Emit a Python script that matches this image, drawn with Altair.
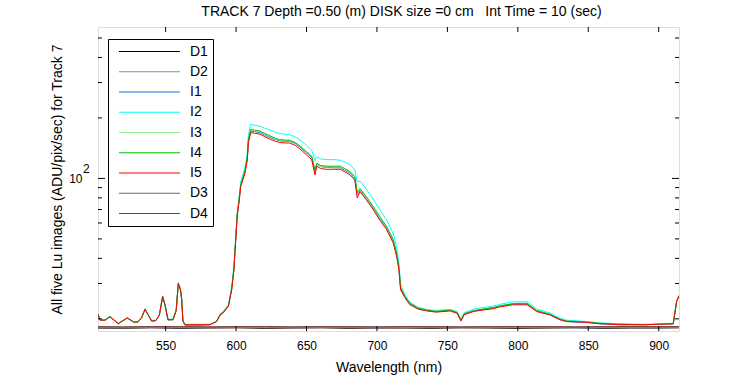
import altair as alt
import pandas as pd

# Wavelength grid (nm) for the illuminated spectra
WL = [502, 503.5, 507, 510.5, 516.4, 522.8, 527.5, 530.4, 533, 535.4,
      537.5, 540.1, 543, 545.5, 547.9, 549.5, 551.7, 555.2, 557.5, 559,
      560.5, 561.4, 562.3, 563.7, 575, 581.5, 586.2, 588.6, 590.7, 594.5,
      596.9, 598.5, 599.2, 600.8, 602.3, 603.3, 606.3, 608, 608.7, 610.4,
      613, 617, 620, 624, 628, 631, 635, 638, 642, 645.4,
      650, 653.7, 656, 657.3, 660, 664, 670, 674, 677, 681,
      684.3, 686, 688, 692.6, 697.3, 702, 707, 711.6, 714, 715.6,
      716.8, 720, 723.4, 729.3, 735.3, 742, 752, 757, 759.6, 762,
      769, 783, 787, 796.5, 806.5, 808.6, 813.3, 822.8, 830, 834.6,
      848.8, 858.3, 872.5, 890, 910.3, 912.7, 914.4]

I1 = [21.1, 19.7, 19.7, 20.5, 18.95, 20.2, 19.25, 19.3, 20.3, 22.3,
      21.0, 19.5, 19.6, 20.8, 25.8, 23.5, 19.8, 19.8, 22.0, 29.9,
      28.0, 25.0, 19.5, 18.7, 18.7, 18.7, 19.4, 20.9, 21.4, 23.1,
      28.1, 35.5, 43.0, 65.5, 79.2, 92, 107.5, 126, 153, 172,
      171, 169, 165, 160, 156, 154, 153, 153, 149, 143,
      134, 127, 108, 117.5, 114.5, 113.5, 113, 113, 110, 106,
      100, 83, 87.5, 79.5, 71.3, 63.3, 56.5, 48.6, 41.6, 35.6,
      28.3, 25.6, 23.7, 22.5, 22.0, 21.7, 22.0, 21.4, 19.6, 21.1,
      21.9, 22.7, 23.1, 23.7, 23.7, 23.2, 21.9, 21.0, 19.8, 19.4,
      19.2, 18.9, 18.7, 18.7, 18.9, 24.4, 26.0]

I2 = [21.1, 19.8, 19.8, 20.6, 19.0, 20.3, 19.3, 19.4, 20.4, 22.5,
      21.1, 19.6, 19.7, 20.9, 26.0, 23.7, 19.9, 19.9, 22.2, 30.3,
      28.3, 25.2, 19.6, 18.8, 18.8, 18.8, 19.5, 21.1, 21.7, 23.5,
      28.8, 36.5, 44.5, 67.5, 82, 96, 113, 134, 164, 186,
      184, 182, 178, 174, 170, 167, 166, 165, 161, 155,
      146, 138, 123, 128, 125, 124, 124, 123, 121, 117,
      110, 96, 97, 88, 79, 70, 62, 53, 45.5, 38,
      29.5, 26.3, 24.2, 22.8, 22.3, 22.0, 22.3, 21.7, 20.0, 21.5,
      22.4, 23.2, 23.6, 24.3, 24.3, 23.8, 22.4, 21.4, 20.1, 19.7,
      19.4, 19.1, 18.9, 18.8, 19.0, 24.6, 26.3]

I3 = [21.1, 19.7, 19.7, 20.5, 19.0, 20.2, 19.3, 19.3, 20.3, 22.4,
      21.0, 19.5, 19.6, 20.8, 25.8, 23.6, 19.8, 19.8, 22.1, 30.0,
      28.0, 25.0, 19.5, 18.7, 18.7, 18.7, 19.4, 21.0, 21.5, 23.1,
      28.2, 35.6, 43.2, 65.8, 79.5, 92.5, 108, 127, 154, 173.5,
      172.5, 170.5, 166.5, 161.5, 157, 155, 154, 154, 150, 144,
      135, 128, 109, 118, 115, 114, 114, 114, 111, 107,
      101, 84, 88, 80, 71.8, 63.8, 57, 49, 42, 35.9,
      28.5, 25.7, 23.8, 22.6, 22.1, 21.8, 22.1, 21.5, 19.7, 21.2,
      22.0, 22.8, 23.2, 23.8, 23.8, 23.3, 22.0, 21.1, 19.9, 19.5,
      19.3, 19.0, 18.8, 18.7, 18.9, 24.4, 26.0]

I4 = [21.1, 19.7, 19.7, 20.5, 18.9, 20.2, 19.2, 19.3, 20.3, 22.3,
      21.0, 19.5, 19.6, 20.8, 25.9, 23.6, 19.8, 19.8, 22.1, 30.0,
      28.1, 25.0, 19.5, 18.6, 18.6, 18.7, 19.4, 21.0, 21.5, 23.2,
      28.3, 35.8, 43.5, 66, 80, 93, 109, 128, 155, 175,
      174, 172, 168, 163, 158, 156, 155, 155, 151, 145,
      136, 129, 110, 119, 116, 115, 115, 115, 112, 108,
      102, 85, 89, 81, 72.5, 64.5, 57.5, 49.5, 42.3, 36.2,
      28.6, 25.8, 23.9, 22.6, 22.1, 21.8, 22.1, 21.5, 19.7, 21.2,
      22.0, 22.8, 23.2, 23.8, 23.9, 23.3, 22.0, 21.1, 19.9, 19.5,
      19.3, 19.0, 18.8, 18.7, 18.9, 24.4, 26.0]

I5 = [21.1, 19.7, 19.7, 20.5, 18.95, 20.2, 19.25, 19.3, 20.3, 22.35,
      21.0, 19.5, 19.6, 20.8, 25.8, 23.5, 19.8, 19.8, 22.0, 29.9,
      28.0, 25.0, 19.5, 18.7, 18.7, 18.7, 19.4, 20.9, 21.4, 23.0,
      27.9, 35.1, 42.6, 64.6, 78.2, 91.0, 106, 124, 150, 169,
      168, 166, 162, 157, 153, 151, 150, 150, 146, 140,
      131, 124, 104, 115, 112, 111, 111, 111, 108, 104,
      98, 80, 86, 78, 70, 62, 55.4, 47.6, 40.8, 35.1,
      27.9, 25.4, 23.5, 22.35, 21.9, 21.6, 21.9, 21.3, 19.5, 21.0,
      21.8, 22.5, 22.9, 23.5, 23.5, 23.0, 21.75, 20.9, 19.8, 19.4,
      19.2, 18.9, 18.7, 18.7, 18.9, 24.4, 26.0]

# Dark frames
DWL = [502, 520, 540, 560, 580, 600, 620, 640, 660, 680, 700,
       720, 740, 760, 780, 800, 820, 840, 860, 880, 900, 914.4]
D1 = [18.0, 17.95, 18.05, 17.95, 18.0, 18.05, 17.95, 18.0, 18.05, 17.95, 18.0,
      18.0, 17.95, 18.05, 18.0, 17.95, 18.0, 18.05, 17.95, 18.0, 18.0, 18.05]
D2 = [18.1, 18.05, 18.15, 18.1, 18.05, 18.1, 18.15, 18.05, 18.1, 18.1, 18.05,
      18.15, 18.1, 18.05, 18.1, 18.15, 18.1, 18.05, 18.1, 18.15, 18.1, 18.1]
D3 = [18.25, 18.2, 18.3, 18.25, 18.2, 18.25, 18.3, 18.2, 18.25, 18.25, 18.2,
      18.3, 18.25, 18.2, 18.25, 18.3, 18.25, 18.2, 18.25, 18.3, 18.25, 18.25]
D4 = [18.3, 18.25, 18.3, 18.3, 18.25, 18.3, 18.3, 18.25, 18.3, 18.3, 18.25,
      18.3, 18.3, 18.25, 18.3, 18.3, 18.3, 18.25, 18.3, 18.3, 18.3, 18.3]

SERIES = ["D1", "D2", "I1", "I2", "I3", "I4", "I5", "D3", "D4"]
COLORS = ["#000000", "#8c8c8c", "#1a6ee8", "#00ffff", "#90ee90",
          "#00c000", "#ff0000", "#7f5f5f", "#803c3c"]

XTICKS = [550, 600, 650, 700, 750, 800, 850, 900]
YMINOR = [20, 30, 40, 50, 60, 70, 80, 90, 200, 300, 400, 500]
YMAJOR = [100]

NB = "\u00a0"
TITLE = "TRACK 7 Depth =0.50 (m) DISK size =0 cm" + NB * 3 + "Int Time = 10 (sec)"
YTITLE = "All five Lu images (ADU/pix/sec) for Track 7"

series_data = {"I1": (WL, I1), "I2": (WL, I2), "I3": (WL, I3), "I4": (WL, I4),
               "I5": (WL, I5), "D1": (DWL, D1), "D2": (DWL, D2),
               "D3": (DWL, D3), "D4": (DWL, D4)}
rows = []
for name in SERIES:
    xs, ys = series_data[name]
    for i, (w, v) in enumerate(zip(xs, ys)):
        rows.append({"series": name, "wl": w, "val": v, "idx": i})
df = pd.DataFrame(rows)

W, H = 581, 304
FONT = "Liberation Sans"
xscale = alt.Scale(domain=[502, 914.4], nice=False, zero=False)
yscale = alt.Scale(type="log", domain=[17.4, 567], nice=False)

xaxis = alt.Axis(values=XTICKS, ticks=False, domain=False, grid=False,
                 labelFontSize=12, labelPadding=9, labelFlush=False,
                 title="Wavelength (nm)", titleFontSize=14, titlePadding=9,
                 titleFontWeight="normal", titleFont=FONT, labelFont=FONT)
yaxis = alt.Axis(values=YMAJOR, labelExpr="'10'", ticks=False,
                 domain=False, grid=False, labelFontSize=12,
                 labelPadding=16, title=YTITLE, titleFontSize=14,
                 titleX=-41, titleY=H / 2, titleAngle=-90,
                 titleAlign="center", titleBaseline="middle",
                 titleFontWeight="normal", titleFont=FONT, labelFont=FONT)

lines = alt.Chart(df).mark_line(strokeWidth=1, clip=True).encode(
    x=alt.X("wl:Q", scale=xscale, axis=xaxis),
    y=alt.Y("val:Q", scale=yscale, axis=yaxis),
    color=alt.Color("series:N", sort=SERIES,
                    scale=alt.Scale(domain=SERIES, range=COLORS),
                    legend=alt.Legend(orient="none", legendX=10, legendY=12,
                                      title=None, symbolType="M-4.7,0H4.7",
                                      symbolSize=169, symbolStrokeWidth=1.2,
                                      symbolOffset=29, labelOffset=33,
                                      labelFontSize=14, labelFont=FONT,
                                      rowPadding=5.25, padding=5,
                                      strokeColor="black", fillColor="white",
                                      labelColor="black")),
    order=alt.Order("idx:Q"),
)

xt = pd.DataFrame({"wl": XTICKS})
xt_bottom = alt.Chart(xt).mark_rule(color="black", strokeWidth=1).encode(
    x=alt.X("wl:Q", scale=xscale, axis=xaxis), y=alt.value(H), y2=alt.value(H - 5))
xt_top = alt.Chart(xt).mark_rule(color="black", strokeWidth=1).encode(
    x=alt.X("wl:Q", scale=xscale, axis=xaxis), y=alt.value(0), y2=alt.value(5))

ym = pd.DataFrame({"val": YMINOR})
yM = pd.DataFrame({"val": YMAJOR})
y_left_minor = alt.Chart(ym).mark_rule(color="black").encode(
    y=alt.Y("val:Q", scale=yscale, axis=yaxis), x=alt.value(0), x2=alt.value(4))
y_right_minor = alt.Chart(ym).mark_rule(color="black").encode(
    y=alt.Y("val:Q", scale=yscale, axis=yaxis), x=alt.value(W), x2=alt.value(W - 4))
y_left_major = alt.Chart(yM).mark_rule(color="black").encode(
    y=alt.Y("val:Q", scale=yscale, axis=yaxis), x=alt.value(0), x2=alt.value(7))
y_right_major = alt.Chart(yM).mark_rule(color="black").encode(
    y=alt.Y("val:Q", scale=yscale, axis=yaxis), x=alt.value(W), x2=alt.value(W - 7))

sup = alt.Chart(pd.DataFrame({"val": YMAJOR, "s": ["2"]})).mark_text(
    align="left", baseline="middle", fontSize=12, font=FONT, dy=-9,
    color="black").encode(
    y=alt.Y("val:Q", scale=yscale, axis=yaxis), x=alt.value(-15), text="s:N")

chart = alt.layer(
    lines, xt_bottom, xt_top, y_left_minor, y_right_minor,
    y_left_major, y_right_major, sup
).properties(
    width=W, height=H,
    padding={"left": 98, "top": 27, "right": 71, "bottom": 44},
    autosize=alt.AutoSizeParams(type="none"),
    title=alt.TitleParams(TITLE, fontSize=14, font=FONT, fontWeight="normal",
                          anchor="middle", offset=8, dx=13, color="black"),
).configure_view(
    stroke="black", strokeWidth=1
).configure_axis(
    labelFont=FONT, titleFont=FONT, labelColor="black", titleColor="black",
    titleFontWeight="normal"
).configure(background="white")

chart.save("out.html", embed_options={"renderer": "svg", "actions": False})
